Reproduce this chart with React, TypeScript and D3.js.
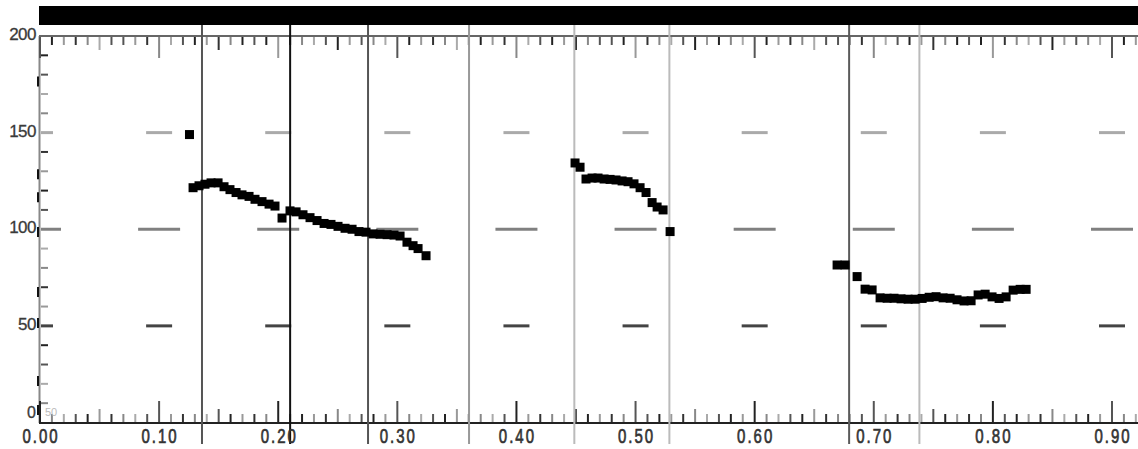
import React from "react";
import { scaleLinear, range } from "d3";

// pitch track, three voiced stretches (time in s, f0 in Hz)
const seg1Time = [0.1255, 0.1285, 0.1335, 0.1385, 0.1436, 0.1495, 0.1545, 0.1595, 0.1646, 0.1696, 0.1755, 0.1805, 0.1864, 0.1923, 0.1973, 0.2032, 0.2099, 0.215, 0.2208, 0.2267, 0.2326, 0.2385, 0.2443, 0.2502, 0.2561, 0.262, 0.2678, 0.2737, 0.2796, 0.2855, 0.2914, 0.2972, 0.3023, 0.3081, 0.3132, 0.3174, 0.3241];
const seg1F0 = [149, 121.5, 122.5, 123.3, 124, 124, 122, 120.5, 119, 117.8, 117, 115.5, 114.3, 113, 112, 105.8, 109.5, 109, 107.5, 106, 104.5, 103, 102.5, 101.5, 100.5, 100, 98.8, 98.5, 97.6, 97.4, 97.2, 97, 96.5, 93.3, 91.5, 90, 86.3];

const seg2Time = [0.4492, 0.4534, 0.4584, 0.4635, 0.4685, 0.4736, 0.4786, 0.4836, 0.4887, 0.4937, 0.4987, 0.5038, 0.5088, 0.5139, 0.5181, 0.5231, 0.529];
const seg2F0 = [134.3, 132.1, 126, 126.5, 126.5, 126, 125.8, 125.5, 125, 124.6, 123.5, 121.5, 119, 113.8, 111.5, 110, 98.8];

const seg3Time = [0.6692, 0.6759, 0.686, 0.6927, 0.6986, 0.7053, 0.7112, 0.717, 0.7229, 0.7288, 0.7347, 0.7406, 0.7465, 0.7523, 0.7582, 0.7641, 0.7699, 0.7758, 0.7817, 0.7876, 0.7935, 0.7993, 0.8052, 0.8111, 0.817, 0.8229, 0.8279];
const seg3F0 = [81.5, 81.5, 75.5, 69, 68.6, 64.5, 64.3, 64.3, 64, 63.8, 63.8, 64.2, 64.8, 65.1, 64.5, 64.3, 63.5, 62.9, 63, 66, 66.4, 65, 64.2, 65, 68.5, 68.9, 68.9];

// segment boundaries (s)
const boundaryTimes = [0.136, 0.21, 0.2754, 0.3602, 0.4486, 0.5284, 0.6793, 0.7383];
const boundaryShades = ["#555", "#111", "#555", "#999", "#bbb", "#bbb", "#5a5a5a", "#bbb"];

const xTickLabels = ["0.00", "0.10", "0.20", "0.30", "0.40", "0.50", "0.60", "0.70", "0.80", "0.90"];
const yTickLabels = [200, 150, 100, 50];
const guideLevels = [150, 100, 50];

const W = 1138;
const H = 449;
const FONT = "Liberation Sans, Arial, sans-serif";

const App = () => {
  const x = scaleLinear().domain([0, 0.9]).range([40, 1112]);
  const y = scaleLinear().domain([0, 200]).range([422.5, 36]);
  const tMax = x.invert(W);

  const points = [
    ...seg1Time.map((t, i) => ({ t, f: seg1F0[i] })),
    ...seg2Time.map((t, i) => ({ t, f: seg2F0[i] })),
    ...seg3Time.map((t, i) => ({ t, f: seg3F0[i] })),
  ];

  const tickShades = ["#333", "#888", "#aaa", "#555", "#222", "#999"];
  const ticks = range(0, Math.floor(tMax * 100) + 1).map((i) => i / 100);
  const tickLen = (i) => (i % 10 === 0 ? 21 : i % 5 === 0 ? 13 : 8);
  const tickShade = (i) => (i % 10 === 0 ? (i % 20 === 0 ? "#222" : "#555") : tickShades[i % tickShades.length]);

  const guideShade = { 150: "#aaa", 100: "#808080", 50: "#444" };
  const guideHalf = { 150: 13, 100: 21, 50: 13 };

  return (
    <svg width={W} height={H} style={{ position: "absolute", left: 0, top: 0, background: "#fff" }}>
      <defs>
        <clipPath id="plot">
          <rect x={41} y={30} width={W - 41} height={400} />
        </clipPath>
      </defs>
      {/* black header bar */}
      <rect x={39} y={6} width={W - 39} height={19} fill="#000" />

      {/* horizontal guide dashes */}
      <g clipPath="url(#plot)">
        {guideLevels.map((lv) =>
          range(0, 10).map((k) => (
            <line
              key={`g${lv}-${k}`}
              x1={x(k / 10) - guideHalf[lv]}
              x2={x(k / 10) + guideHalf[lv]}
              y1={y(lv)}
              y2={y(lv)}
              stroke={guideShade[lv]}
              strokeWidth={3}
            />
          ))
        )}
      </g>

      {/* left axis small ticks */}
      {range(10, 200, 10).filter((v) => v % 50 !== 0).map((v, i) => (
        <line key={`ly${v}`} x1={41} x2={48} y1={y(v)} y2={y(v)} stroke={tickShades[(i + 1) % tickShades.length]} strokeWidth={2} />
      ))}
      <line x1={39.5} x2={39.5} y1={36} y2={423} stroke="#888" strokeWidth={2} />
      {[176, 128, 116, 98, 67, 51, 21, 6].map((v) => (
        <line key={`lm${v}`} x1={38} x2={38} y1={y(v) - 6} y2={y(v) + 4} stroke="#111" strokeWidth={2} />
      ))}

      {/* top axis */}
      <line x1={39} x2={W} y1={36} y2={36} stroke="#666" strokeWidth={2} />
      {ticks.map((t, i) => (
        <line key={`tt${i}`} x1={x(t)} x2={x(t)} y1={37} y2={37 + tickLen(i)} stroke={tickShade(i + 3)} strokeWidth={2} />
      ))}

      {/* bottom axis */}
      {ticks.map((t, i) => (
        <line key={`bt${i}`} x1={x(t)} x2={x(t)} y1={422} y2={422 - tickLen(i)} stroke={tickShade(i)} strokeWidth={2} />
      ))}
      <line x1={39} x2={W} y1={423} y2={423} stroke="#222" strokeWidth={2} />

      {/* segment boundaries */}
      {boundaryTimes.map((t, i) => (
        <line key={`b${i}`} x1={x(t)} x2={x(t)} y1={25} y2={444} stroke={boundaryShades[i]} strokeWidth={2} />
      ))}

      {/* pitch points */}
      {points.map((p, i) => (
        <rect key={`p${i}`} x={x(p.t) - 4.5} y={y(p.f) - 4.5} width={9} height={9} fill="#000" />
      ))}

      {/* y labels */}
      {yTickLabels.map((v) => (
        <text
          key={`yl${v}`}
          x={36}
          y={y(v) + 4}
          textAnchor="end"
          fontFamily={FONT}
          fontSize={17}
          letterSpacing={-0.5}
          fill="#3a3a3a"
          stroke="#3a3a3a"
          strokeWidth={0.3}
        >
          {v}
        </text>
      ))}
      <text x={36} y={418} textAnchor="end" fontFamily={FONT} fontSize={16} fill="#3a3a3a" stroke="#3a3a3a" strokeWidth={0.3}>
        0
      </text>
      <text x={45} y={416} fontFamily={FONT} fontSize={11} fill="#bbb">
        50
      </text>

      {/* x labels */}
      {xTickLabels.map((s, i) => (
        <g key={`xl${i}`} transform={`translate(${x(i / 10)}, 443) scale(1, 1.35)`}>
          <text
            x={1}
            y={0}
            textAnchor="middle"
            fontFamily={FONT}
            fontSize={15}
            letterSpacing={2}
            fill="#333"
            stroke="#333"
            strokeWidth={0.5}
          >
            {s}
          </text>
        </g>
      ))}
    </svg>
  );
};

export default App;
